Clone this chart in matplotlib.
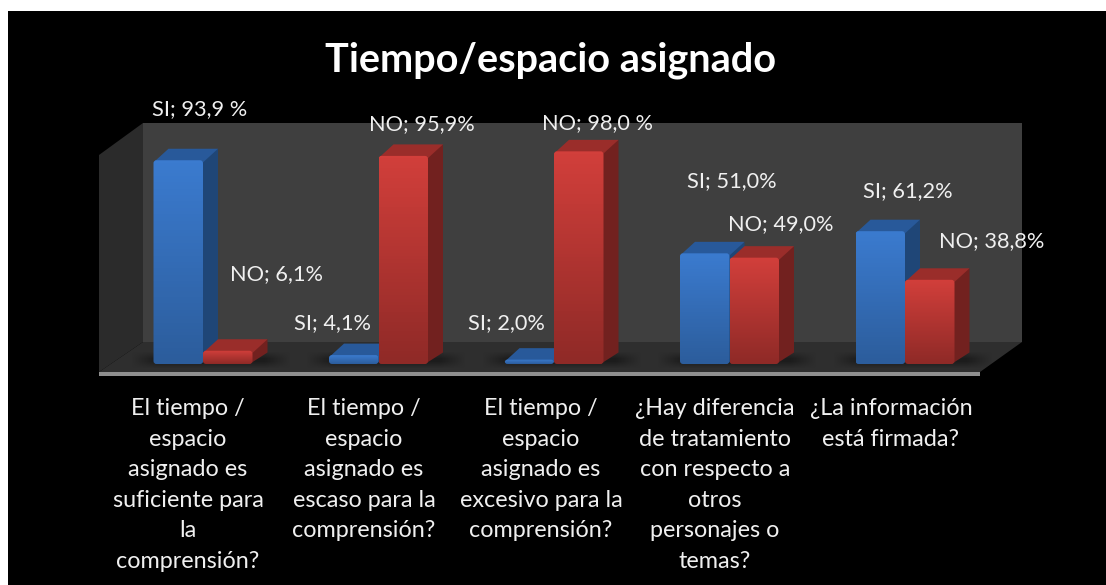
import numpy as np
import matplotlib
matplotlib.use('Agg')
import matplotlib.pyplot as plt
from matplotlib.patches import Polygon, Rectangle, FancyBboxPatch
from matplotlib.colors import LinearSegmentedColormap

categories = [
    'El tiempo /\nespacio\nasignado es\nsuficiente para\nla\ncomprensión?',
    'El tiempo /\nespacio\nasignado es\nescaso para la\ncomprensión?',
    'El tiempo /\nespacio\nasignado es\nexcesivo para la\ncomprensión?',
    '¿Hay diferencia\nde tratamiento\ncon respecto a\notros\npersonajes o\ntemas?',
    '¿La información\nestá firmada?',
]
si_values = [93.9, 4.1, 2.0, 51.0, 61.2]
no_values = [6.1, 95.9, 98.0, 49.0, 38.8]
si_labels = ['SI; 93,9 %', 'SI; 4,1%', 'SI; 2,0%', 'SI; 51,0%', 'SI; 61,2%']
no_labels = ['NO; 6,1%', 'NO; 95,9%', 'NO; 98,0 %', 'NO; 49,0%', 'NO; 38,8%']

# label anchors in pixels (left, vertical centre)
si_label_px = [(152, 109), (294, 323), (468, 323), (687, 181), (863, 191)]
no_label_px = [(230, 274), (369, 124), (542, 123), (728, 224), (939, 241)]
cat_label_cx = [188, 364, 541, 715, 891]

W, H = 1106, 585
plt.rcParams['font.family'] = ['Lato', 'DejaVu Sans']

px = 1 / 100
fig = plt.figure(figsize=(W * px, H * px), dpi=100, facecolor='white')

# background layer in pixel coordinates
bg = fig.add_axes([0, 0, 1, 1])
bg.axis('off')
bg.add_patch(Rectangle((8, 11), W - 8, H - 11, fc='black', ec='none'))

bg.add_patch(Polygon([(143, 123), (1022, 123), (1022, 342), (143, 342)], fc='#3f3f3f', ec='none'))
bg.add_patch(Polygon([(99, 155), (143, 123), (143, 342), (99, 372)], fc='#2b2b2b', ec='none'))
bg.add_patch(Polygon([(99, 372), (143, 342), (1022, 342), (980, 372)], fc='#2e2e2e', ec='none'))
bg.add_patch(Rectangle((99, 372), 881, 4, fc='#8f8f8f', ec='none'))


def soft_shadow(left, right, top, bottom, soft=26):
    xs = np.arange(left, right)
    ys = np.arange(top, bottom)
    ax_x = np.clip(np.minimum(xs - left, right - 1 - xs) / soft, 0, 1)
    ax_y = np.clip(np.minimum(ys - top, bottom - 1 - ys) / 7, 0, 1)
    rgba = np.zeros((len(ys), len(xs), 4))
    rgba[..., 3] = 0.38 * np.outer(ax_y, ax_x)
    bg.imshow(rgba, extent=(left, right, bottom, top), aspect='auto', zorder=2)


# bars use value scale: 2.17 px per percent, 175.5 px per category
x0, dx = 203.0, 175.5
y0, dy = 364.0, 2.17

for i in range(len(categories)):
    c = x0 + dx * i
    soft_shadow(int(c - 72), int(c + 88), 351, 369)

bg.set_xlim(0, W)
bg.set_ylim(H, 0)

ax = fig.add_axes([0, 0, 1, 1])
ax.axis('off')
ax.patch.set_alpha(0)

bar_w = 49.5 / dx
depth_x = 15 / dx
depth_y = 11.5 / dy
round_x = 3 / dx

blue_map = LinearSegmentedColormap.from_list('b', ['#2c5d9c', '#3b7bcf'])
red_map = LinearSegmentedColormap.from_list('r', ['#8f2a27', '#d23f3b'])
grad = np.linspace(1, 0, 64).reshape(-1, 1)


def draw_bar(left, value, cmap, top_col, side_col):
    right = left + bar_w
    ax.add_patch(Polygon([(right - round_x, 0), (right + depth_x, depth_y),
                          (right + depth_x, value + depth_y), (right - round_x, value)],
                         fc=side_col, ec='none', zorder=3))
    ax.add_patch(Polygon([(left, value - 1), (left + depth_x, value + depth_y),
                          (right + depth_x, value + depth_y), (right, value - 1)],
                         fc=top_col, ec='none', zorder=3))
    shape = FancyBboxPatch((left, 0), bar_w, value,
                           boxstyle=f'round,pad=0,rounding_size={round_x}',
                           mutation_aspect=dx / dy, fc='none', ec='none', zorder=4)
    ax.add_patch(shape)
    img = ax.imshow(grad, extent=(left, right, 0, value), cmap=cmap, vmin=0, vmax=1,
                    aspect='auto', zorder=4)
    img.set_clip_path(shape)


for i in range(len(categories)):
    draw_bar(i - bar_w, si_values[i], blue_map, '#28599a', '#1f4677')
    draw_bar(i, no_values[i], red_map, '#9a2d2a', '#72211f')

ax.set_xlim((0 - x0) / dx, (W - x0) / dx)
ax.set_ylim((y0 - H) / dy, y0 / dy)

# texts sit on a top layer in pixels
top = fig.add_axes([0, 0, 1, 1])
top.set_xlim(0, W)
top.set_ylim(H, 0)
top.axis('off')
top.patch.set_alpha(0)

top.text(551, 60, 'Tiempo/espacio asignado', color='white', fontsize=28.5, fontweight='bold',
         ha='center', va='center')
for (lx, ly), s in zip(si_label_px, si_labels):
    top.text(lx, ly, s, color='#f0f0f0', fontsize=15.7, ha='left', va='center')
for (lx, ly), s in zip(no_label_px, no_labels):
    top.text(lx, ly, s, color='#f0f0f0', fontsize=15.7, ha='left', va='center')
for cx, s in zip(cat_label_cx, categories):
    top.text(cx, 398, s, color='#f0f0f0', fontsize=16.8, ha='center', va='top', linespacing=1.56)

fig.savefig('out.png', dpi=100, facecolor='white')
